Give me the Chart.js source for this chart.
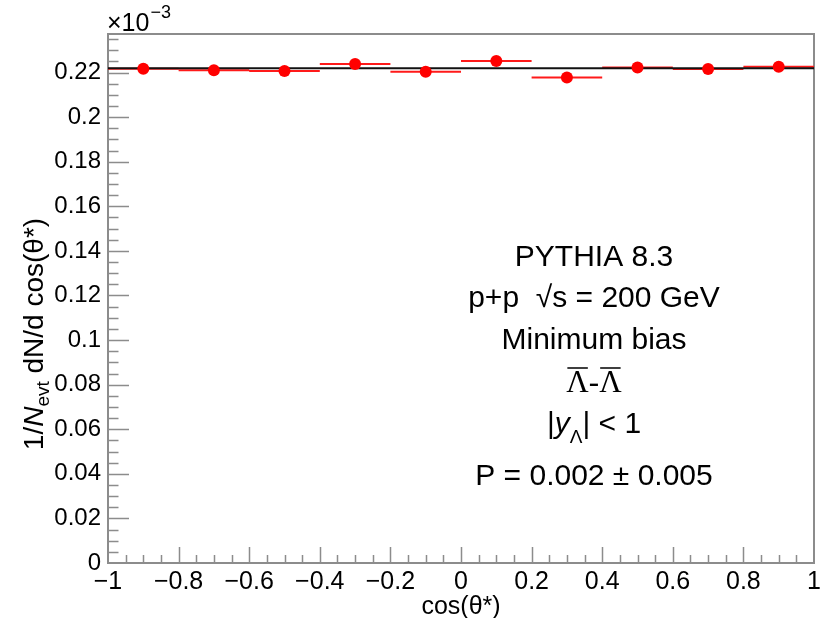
<!DOCTYPE html>
<html>
<head>
<meta charset="utf-8">
<script src="https://cdn.jsdelivr.net/npm/chart.js@4.4.1/dist/chart.umd.min.js"></script>
<style>
  html, body { margin: 0; padding: 0; background: #fff; }
</style>
</head>
<body>
<canvas id="polChart" width="833" height="618"></canvas>
<script>
// cos(theta*) bins: centres and half width
const binCenters = [-0.9, -0.7, -0.5, -0.3, -0.1, 0.1, 0.3, 0.5, 0.7, 0.9];
const binHalfWidth = 0.1;
// 1/Nevt dN/dcos(theta*) per bin (x 10^-3)
const yields = [0.2217, 0.2210, 0.2207, 0.2238, 0.2204, 0.2252, 0.2178, 0.2223, 0.2216, 0.2226];
// flat fit result
const fitRange = [-1, 1];
const fitLevel = 0.2219;

const xRange = [-1, 1];
const yRange = [0, 0.2373];
const xMajorStep = 0.2, xMinorStep = 0.05;
const yMajorStep = 0.02, yMinorStep = 0.005;

const infoLines = ['PYTHIA 8.3', 'p+p  \u221As = 200 GeV', 'Minimum bias'];
const polText = 'P = 0.002 \u00B1 0.005';

const SANS = '"Liberation Sans", Arial, Helvetica, sans-serif';
const SERIF = '"Liberation Serif", "Times New Roman", serif';
const frameColor = '#8c8c8c';

// horizontal bars: one segment per bin, null breaks the line
const barPoints = [];
binCenters.forEach((c, i) => {
  barPoints.push({ x: c - binHalfWidth, y: yields[i] });
  barPoints.push({ x: c + binHalfWidth, y: yields[i] });
  barPoints.push({ x: c, y: null });
});

function fmtTick(v, digits) {
  const n = parseFloat(v.toFixed(digits));
  if (n === 0) return '0';
  return n < 0 ? '\u2212' + Math.abs(n) : String(n);
}

// ROOT style frame with ticks pointing inwards
const rootAxes = {
  id: 'rootAxes',
  beforeDatasetsDraw(chart) {
    const { ctx, chartArea: a, scales: { x, y } } = chart;
    ctx.save();
    ctx.strokeStyle = frameColor;
    ctx.lineWidth = 1.5;
    ctx.beginPath();
    const nx = Math.round((xRange[1] - xRange[0]) / xMinorStep);
    for (let i = 1; i < nx; i++) {
      const px = Math.round(x.getPixelForValue(xRange[0] + i * xMinorStep)) + 0.5;
      const len = i % 4 === 0 ? 16 : 8;
      ctx.moveTo(px, a.bottom);
      ctx.lineTo(px, a.bottom - len);
    }
    const ny = Math.floor(yRange[1] / yMinorStep + 1e-6);
    for (let i = 1; i <= ny; i++) {
      const py = Math.round(y.getPixelForValue(i * yMinorStep)) + 0.5;
      const len = i % 4 === 0 ? 21 : 10.5;
      ctx.moveTo(a.left, py);
      ctx.lineTo(a.left + len, py);
    }
    ctx.stroke();
    ctx.lineWidth = 2;
    ctx.strokeRect(a.left, a.top, a.right - a.left, a.bottom - a.top);
    ctx.restore();
  },
  afterDraw(chart) {
    const { ctx, chartArea: a } = chart;
    ctx.save();
    ctx.fillStyle = '#000';
    ctx.textBaseline = 'alphabetic';

    // exponent above the y axis
    ctx.font = '25px ' + SANS;
    ctx.textAlign = 'left';
    ctx.fillText('\u00D710', a.left - 1, 31);
    const ew = ctx.measureText('\u00D710').width;
    ctx.font = '18px ' + SANS;
    ctx.fillText('\u22123', a.left + ew, 18);

    // x title
    ctx.font = '25px ' + SANS;
    ctx.textAlign = 'center';
    ctx.fillText('cos(\u03B8*)', (a.left + a.right) / 2, 614);

    // y title, rotated
    ctx.save();
    ctx.translate(33, 334);
    ctx.rotate(-Math.PI / 2);
    const parts = [
      { t: '1/', f: '28px ' + SANS, dy: 0 },
      { t: 'N', f: 'italic 28px ' + SANS, dy: 0 },
      { t: 'evt', f: '19px ' + SANS, dy: 6 },
      { t: ' dN/d cos(\u03B8*)', f: '28px ' + SANS, dy: 0 }
    ];
    let total = 0;
    parts.forEach(p => { ctx.font = p.f; p.w = ctx.measureText(p.t).width; total += p.w; });
    let cx = -total / 2;
    ctx.textAlign = 'left';
    parts.forEach(p => { ctx.font = p.f; ctx.fillText(p.t, cx, 10 + p.dy); cx += p.w; });
    ctx.restore();

    // info box
    const bx = 594;
    ctx.textAlign = 'center';
    ctx.font = '30px ' + SANS;
    const baselines = [266, 307, 349];
    infoLines.forEach((t, i) => ctx.fillText(t, bx, baselines[i]));

    // anti-Lambda - anti-Lambda
    ctx.font = '31px ' + SERIF;
    const lam = '\u039B';
    const lw = ctx.measureText(lam).width;
    const dw = ctx.measureText('-').width;
    const tw = lw * 2 + dw;
    const lx = bx - tw / 2;
    ctx.textAlign = 'left';
    ctx.fillText(lam, lx, 392);
    ctx.fillText('-', lx + lw, 392);
    ctx.fillText(lam, lx + lw + dw, 392);
    ctx.lineWidth = 1.5;
    ctx.strokeStyle = '#000';
    ctx.beginPath();
    ctx.moveTo(lx + 1, 368); ctx.lineTo(lx + lw - 1, 368);
    ctx.moveTo(lx + lw + dw + 1, 368); ctx.lineTo(lx + tw - 1, 368);
    ctx.stroke();

    // |y_Lambda| < 1
    const yp = [
      { t: '|', f: '30px ' + SANS, dy: 0 },
      { t: 'y', f: 'italic 30px ' + SANS, dy: 0 },
      { t: '\u039B', f: '19px ' + SANS, dy: 10 },
      { t: '| < 1', f: '30px ' + SANS, dy: 0 }
    ];
    let yw = 0;
    yp.forEach(p => { ctx.font = p.f; p.w = ctx.measureText(p.t).width; yw += p.w; });
    let yx = bx - yw / 2;
    yp.forEach(p => { ctx.font = p.f; ctx.fillText(p.t, yx, 433 + p.dy); yx += p.w; });

    ctx.textAlign = 'center';
    ctx.font = '30px ' + SANS;
    ctx.fillText(polText, bx, 485);
    ctx.restore();
  }
};

new Chart(document.getElementById('polChart'), {
  type: 'scatter',
  data: {
    datasets: [
      {
        label: 'bin width',
        data: barPoints,
        showLine: true,
        spanGaps: false,
        borderColor: '#ff1a1a',
        borderWidth: 2,
        pointRadius: 0,
        order: 3
      },
      {
        label: 'fit',
        data: fitRange.map(v => ({ x: v, y: fitLevel })),
        showLine: true,
        borderColor: '#111',
        borderWidth: 2,
        pointRadius: 0,
        order: 2
      },
      {
        label: 'PYTHIA',
        data: binCenters.map((c, i) => ({ x: c, y: yields[i] })),
        backgroundColor: '#ff0000',
        borderWidth: 0,
        pointRadius: 6,
        order: 1
      }
    ]
  },
  options: {
    responsive: false,
    animation: false,
    devicePixelRatio: 1,
    layout: { padding: { left: 0, right: 19, top: 34, bottom: 0 } },
    plugins: {
      legend: { display: false },
      tooltip: { enabled: false }
    },
    scales: {
      x: {
        type: 'linear',
        min: xRange[0],
        max: xRange[1],
        border: { display: false },
        grid: { display: false, drawTicks: false },
        ticks: {
          stepSize: xMajorStep,
          autoSkip: false,
          maxRotation: 0,
          padding: 4,
          color: '#000',
          font: { family: SANS, size: 25 },
          callback: v => fmtTick(v, 1)
        },
        afterFit: s => { s.height = 55; }
      },
      y: {
        type: 'linear',
        min: yRange[0],
        max: yRange[1],
        border: { display: false },
        grid: { display: false, drawTicks: false },
        ticks: {
          stepSize: yMajorStep,
          includeBounds: false,
          autoSkip: false,
          padding: 7,
          color: '#000',
          font: { family: SANS, size: 24 },
          callback: v => fmtTick(v, 2)
        },
        afterFit: s => { s.width = 108; }
      }
    }
  },
  plugins: [rootAxes]
});
</script>
</body>
</html>
